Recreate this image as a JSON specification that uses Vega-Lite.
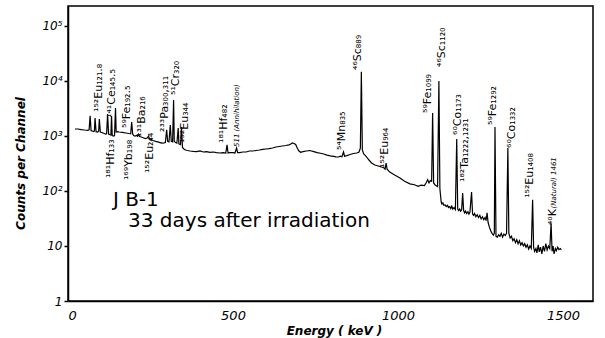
{
  "$schema": "https://vega.github.io/schema/vega-lite/v6.json",
  "width": 525,
  "height": 295,
  "autosize": {"type": "none"},
  "padding": {"left": 68, "top": 6, "right": 12, "bottom": 37},
  "background": "white",
  "config": {
    "view": {"stroke": "black", "strokeWidth": 1.5},
    "axis": {"grid": false, "domainColor": "black", "domainWidth": 1.5, "tickColor": "black", "tickWidth": 1.5, "labelColor": "black", "titleColor": "black"}
  },
  "datasets": {
    "spectrum": [
      {"energy":21,"counts":1340},{"energy":30,"counts":1340},{"energy":40,"counts":1310},{"energy":50,"counts":1285},{"energy":60,"counts":1270},{"energy":64,"counts":1300},{"energy":67,"counts":2340},{"energy":70,"counts":1250},{"energy":74,"counts":1233},{"energy":78,"counts":1200},{"energy":80,"counts":1230},{"energy":82,"counts":2125},{"energy":85,"counts":1200},{"energy":90,"counts":1183},{"energy":93,"counts":1220},{"energy":95,"counts":2040},{"energy":98,"counts":1183},{"energy":102,"counts":1160},{"energy":106,"counts":1134},{"energy":110,"counts":1110},{"energy":114,"counts":1087},{"energy":117,"counts":1100},{"energy":120,"counts":2510},{"energy":123,"counts":1087},{"energy":127,"counts":1060},{"energy":130,"counts":1043},{"energy":132,"counts":2310},{"energy":134,"counts":1020},{"energy":138,"counts":1000},{"energy":141,"counts":1020},{"energy":144,"counts":3230},{"energy":146,"counts":1183},{"energy":150,"counts":1200},{"energy":155,"counts":1183},{"energy":165,"counts":1160},{"energy":175,"counts":1134},{"energy":185,"counts":1110},{"energy":190,"counts":1100},{"energy":193,"counts":1800},{"energy":196,"counts":1087},{"energy":199,"counts":1020},{"energy":203,"counts":1000},{"energy":208,"counts":1020},{"energy":211,"counts":990},{"energy":214,"counts":1080},{"energy":217,"counts":980},{"energy":222,"counts":960},{"energy":228,"counts":930},{"energy":234,"counts":900},{"energy":240,"counts":920},{"energy":244,"counts":1000},{"energy":247,"counts":880},{"energy":252,"counts":860},{"energy":258,"counts":830},{"energy":265,"counts":800},{"energy":272,"counts":780},{"energy":279,"counts":760},{"energy":285,"counts":740},{"energy":291,"counts":750},{"energy":295,"counts":760},{"energy":299,"counts":1300},{"energy":302,"counts":800},{"energy":306,"counts":780},{"energy":310,"counts":1585},{"energy":313,"counts":800},{"energy":317,"counts":780},{"energy":320,"counts":4500},{"energy":322,"counts":800},{"energy":326,"counts":760},{"energy":330,"counts":740},{"energy":334,"counts":1400},{"energy":336,"counts":720},{"energy":341,"counts":700},{"energy":344,"counts":1458},{"energy":347,"counts":620},{"energy":351,"counts":580},{"energy":356,"counts":556},{"energy":362,"counts":545},{"energy":370,"counts":534},{"energy":380,"counts":525},{"energy":390,"counts":520},{"energy":400,"counts":534},{"energy":410,"counts":512},{"energy":420,"counts":520},{"energy":430,"counts":505},{"energy":440,"counts":512},{"energy":450,"counts":500},{"energy":460,"counts":491},{"energy":470,"counts":500},{"energy":478,"counts":491},{"energy":482,"counts":690},{"energy":485,"counts":491},{"energy":490,"counts":500},{"energy":500,"counts":500},{"energy":506,"counts":491},{"energy":511,"counts":605},{"energy":514,"counts":500},{"energy":520,"counts":500},{"energy":530,"counts":512},{"energy":540,"counts":512},{"energy":550,"counts":534},{"energy":560,"counts":534},{"energy":570,"counts":545},{"energy":580,"counts":556},{"energy":590,"counts":570},{"energy":600,"counts":580},{"energy":610,"counts":590},{"energy":620,"counts":605},{"energy":630,"counts":631},{"energy":640,"counts":645},{"energy":650,"counts":658},{"energy":660,"counts":672},{"energy":670,"counts":690},{"energy":675,"counts":716},{"energy":680,"counts":746},{"energy":685,"counts":730},{"energy":690,"counts":700},{"energy":695,"counts":600},{"energy":700,"counts":534},{"energy":705,"counts":505},{"energy":712,"counts":520},{"energy":722,"counts":534},{"energy":733,"counts":545},{"energy":745,"counts":520},{"energy":755,"counts":500},{"energy":765,"counts":485},{"energy":775,"counts":470},{"energy":785,"counts":450},{"energy":795,"counts":435},{"energy":805,"counts":425},{"energy":812,"counts":418},{"energy":820,"counts":415},{"energy":825,"counts":430},{"energy":830,"counts":420},{"energy":835,"counts":512},{"energy":838,"counts":430},{"energy":845,"counts":440},{"energy":855,"counts":460},{"energy":865,"counts":480},{"energy":875,"counts":490},{"energy":882,"counts":512},{"energy":886,"counts":600},{"energy":889,"counts":14760},{"energy":892,"counts":560},{"energy":896,"counts":471},{"energy":900,"counts":450},{"energy":905,"counts":415},{"energy":912,"counts":366},{"energy":920,"counts":323},{"energy":930,"counts":297},{"energy":940,"counts":285},{"energy":950,"counts":273},{"energy":957,"counts":265},{"energy":961,"counts":250},{"energy":964,"counts":323},{"energy":967,"counts":250},{"energy":975,"counts":221},{"energy":990,"counts":195},{"energy":1006,"counts":172},{"energy":1020,"counts":150},{"energy":1036,"counts":135},{"energy":1050,"counts":130},{"energy":1061,"counts":122},{"energy":1070,"counts":128},{"energy":1080,"counts":125},{"energy":1085,"counts":140},{"energy":1090,"counts":160},{"energy":1094,"counts":140},{"energy":1098,"counts":155},{"energy":1102,"counts":150},{"energy":1105,"counts":2620},{"energy":1108,"counts":140},{"energy":1112,"counts":130},{"energy":1116,"counts":125},{"energy":1120,"counts":120},{"energy":1124,"counts":10000},{"energy":1127,"counts":110},{"energy":1131,"counts":63},{"energy":1133,"counts":58},{"energy":1136,"counts":61},{"energy":1139,"counts":55},{"energy":1143,"counts":56},{"energy":1146,"counts":52},{"energy":1150,"counts":55},{"energy":1153,"counts":50},{"energy":1157,"counts":52},{"energy":1160,"counts":48},{"energy":1163,"counts":53},{"energy":1166,"counts":47},{"energy":1170,"counts":50},{"energy":1174,"counts":46},{"energy":1178,"counts":880},{"energy":1181,"counts":47},{"energy":1184,"counts":44},{"energy":1187,"counts":47},{"energy":1190,"counts":43},{"energy":1193,"counts":46},{"energy":1196,"counts":92},{"energy":1199,"counts":44},{"energy":1202,"counts":40},{"energy":1205,"counts":43},{"energy":1208,"counts":39},{"energy":1212,"counts":42},{"energy":1215,"counts":38},{"energy":1218,"counts":41},{"energy":1223,"counts":96},{"energy":1226,"counts":38},{"energy":1229,"counts":36},{"energy":1232,"counts":39},{"energy":1236,"counts":34},{"energy":1240,"counts":37},{"energy":1244,"counts":33},{"energy":1248,"counts":36},{"energy":1252,"counts":31},{"energy":1256,"counts":34},{"energy":1260,"counts":30},{"energy":1264,"counts":33},{"energy":1267,"counts":29},{"energy":1270,"counts":40},{"energy":1273,"counts":27},{"energy":1277,"counts":22},{"energy":1281,"counts":19},{"energy":1285,"counts":17},{"energy":1289,"counts":15.8},{"energy":1292,"counts":17},{"energy":1294,"counts":1450},{"energy":1297,"counts":15},{"energy":1301,"counts":14.5},{"energy":1305,"counts":16},{"energy":1309,"counts":15},{"energy":1313,"counts":17},{"energy":1317,"counts":14.5},{"energy":1321,"counts":16.5},{"energy":1325,"counts":15.5},{"energy":1329,"counts":17},{"energy":1333,"counts":605},{"energy":1336,"counts":17},{"energy":1340,"counts":14},{"energy":1344,"counts":15},{"energy":1348,"counts":12.5},{"energy":1352,"counts":13.5},{"energy":1356,"counts":11.5},{"energy":1360,"counts":13},{"energy":1364,"counts":11},{"energy":1368,"counts":12.5},{"energy":1372,"counts":10.4},{"energy":1376,"counts":11.5},{"energy":1380,"counts":10},{"energy":1384,"counts":11},{"energy":1388,"counts":9.5},{"energy":1392,"counts":10.5},{"energy":1396,"counts":8.8},{"energy":1400,"counts":10},{"energy":1404,"counts":9},{"energy":1408,"counts":69},{"energy":1411,"counts":9.5},{"energy":1414,"counts":8},{"energy":1418,"counts":9},{"energy":1421,"counts":7.5},{"energy":1425,"counts":10.5},{"energy":1428,"counts":7.8},{"energy":1432,"counts":9.5},{"energy":1436,"counts":7.2},{"energy":1440,"counts":10},{"energy":1444,"counts":8},{"energy":1448,"counts":11},{"energy":1452,"counts":8.5},{"energy":1456,"counts":10},{"energy":1460,"counts":9},{"energy":1464,"counts":26},{"energy":1467,"counts":8},{"energy":1470,"counts":10},{"energy":1473,"counts":7.2},{"energy":1477,"counts":9},{"energy":1480,"counts":8.2},{"energy":1484,"counts":9.5},{"energy":1488,"counts":8.6},{"energy":1492,"counts":9},{"energy":1495,"counts":8.5}
    ],
    "peaks": [
      {"energy":94,"counts":2730,"label":"¹⁵²Eu₁₂₁.₈"},
      {"energy":133,"counts":2125,"label":"¹⁴¹Ce₁₄₅.₅"},
      {"energy":179,"counts":1397,"label":"⁵⁹Fe₁₉₂.₅"},
      {"energy":224,"counts":959,"label":"¹³¹Ba₂₁₆"},
      {"energy":294,"counts":1183,"label":"²³³Pa₃₀₀,₃₁₁"},
      {"energy":327,"counts":5560,"label":"⁵¹Cr₃₂₀"},
      {"energy":355,"counts":746,"label":"¹⁵²Eu₃₄₄"},
      {"energy":472,"counts":746,"label":"¹⁸¹Hf₄₈₂"},
      {"energy":830,"counts":556,"label":"⁵⁴Mn₈₃₅"},
      {"energy":880,"counts":15850,"label":"⁴⁶Sc₈₈₉"},
      {"energy":960,"counts":262,"label":"¹⁵²Eu₉₆₄"},
      {"energy":1091,"counts":2620,"label":"⁵⁹Fe₁₀₉₉"},
      {"energy":1133,"counts":17980,"label":"⁴⁶Sc₁₁₂₀"},
      {"energy":1182,"counts":1043,"label":"⁶⁰Co₁₁₇₃"},
      {"energy":1203,"counts":146,"label":"¹⁸²Ta₁₂₂₂,₁₂₃₁"},
      {"energy":1288,"counts":1585,"label":"⁵⁹Fe₁₂₉₂"},
      {"energy":1345,"counts":605,"label":"⁶⁰Co₁₃₃₂"},
      {"energy":1400,"counts":75,"label":"¹⁵²Eu₁₄₀₈"},
      {"energy":1470,"counts":24,"label":"⁴⁰K"},
      {"energy":130,"counts":172,"label":"¹⁸¹Hf₁₃₃"},
      {"energy":185,"counts":158,"label":"¹⁶⁹Yb₁₉₈"},
      {"energy":250,"counts":212,"label":"¹⁵²Eu₂₄₄"}
    ],
    "small": [
      {"energy":512,"counts":631,"label":"511 (Annihilation)"},
      {"energy":1472,"counts":48,"label":"(Natural) 1461"}
    ],
    "notes": [
      {"energy":136,"counts":68.5,"label":"J B-1"},
      {"energy":182,"counts":28.5,"label":"33 days after irradiation"}
    ],
    "xticks": [
      {"energy":100},{"energy":200},{"energy":300},{"energy":400},{"energy":500},{"energy":600},{"energy":700},{"energy":800},{"energy":900},{"energy":1000},{"energy":1100},{"energy":1200},{"energy":1300},{"energy":1400},{"energy":1500}
    ],
    "yticks": [
      {"counts":10},{"counts":100},{"counts":1000},{"counts":10000},{"counts":100000}
    ]
  },
  "encoding": {
    "x": {"field": "energy", "type": "quantitative",
      "scale": {"domain": [0, 1591], "nice": false, "zero": false},
      "axis": {"values": [0,100,200,300,400,500,600,700,800,900,1000,1100,1200,1300,1400,1500],
        "labelExpr": "datum.value % 500 == 0 ? datum.label : ''", "format": "d", "labelOverlap": false,
        "ticks": false, "labelPadding": 8, "labelFont": "DejaVu Sans", "labelFontStyle": "italic", "labelFontSize": 13,
        "title": "Energy ( keV )", "titleFont": "DejaVu Sans", "titleFontStyle": "italic", "titleFontWeight": "bold", "titleFontSize": 12,
        "titleX": 266, "titleY": 29, "titleAlign": "center", "titleBaseline": "middle"}},
    "y": {"field": "counts", "type": "quantitative",
      "scale": {"type": "log", "domain": [1, 231000], "nice": false},
      "axis": {"values": [1,10,100,1000,10000,100000],
        "labelExpr": "datum.value == 1 ? '1' : datum.value == 10 ? '10' : datum.value == 100 ? '10²' : datum.value == 1000 ? '10³' : datum.value == 10000 ? '10⁴' : '10⁵'",
        "labelOverlap": false, "tickSize": 4, "labelPadding": 2, "labelFont": "DejaVu Sans", "labelFontStyle": "italic", "labelFontSize": 12,
        "title": "Counts per Channel", "titleFont": "DejaVu Sans", "titleFontStyle": "italic", "titleFontWeight": "bold", "titleFontSize": 12,
        "titleX": -48, "titleY": 157, "titleAngle": 270, "titleAlign": "center", "titleBaseline": "middle"}}
  },
  "layer": [
    {"data": {"name": "spectrum"}, "mark": {"type": "line", "color": "black", "strokeWidth": 1.2}},
    {"data": {"name": "xticks"}, "mark": {"type": "rule", "color": "black", "strokeWidth": 1.5},
      "encoding": {
        "y": {"datum": 1, "type": "quantitative",
          "axis": {"values": [1,10,100,1000,10000,100000],
            "labelExpr": "datum.value == 1 ? '1' : datum.value == 10 ? '10' : datum.value == 100 ? '10²' : datum.value == 1000 ? '10³' : datum.value == 10000 ? '10⁴' : '10⁵'",
            "labelOverlap": false, "tickSize": 4, "labelPadding": 2, "labelFont": "DejaVu Sans", "labelFontStyle": "italic", "labelFontSize": 12,
            "title": "Counts per Channel", "titleFont": "DejaVu Sans", "titleFontStyle": "italic", "titleFontWeight": "bold", "titleFontSize": 12,
            "titleX": -48, "titleY": 157, "titleAngle": 270, "titleAlign": "center", "titleBaseline": "middle"}},
        "y2": {"datum": 1.24}
      }},
    {"data": {"name": "yticks"}, "mark": {"type": "rule", "color": "black", "strokeWidth": 1.5},
      "encoding": {
        "x": {"datum": 1575, "type": "quantitative",
          "axis": {"values": [0,100,200,300,400,500,600,700,800,900,1000,1100,1200,1300,1400,1500],
            "labelExpr": "datum.value % 500 == 0 ? datum.label : ''", "format": "d", "labelOverlap": false,
            "ticks": false, "labelPadding": 8, "labelFont": "DejaVu Sans", "labelFontStyle": "italic", "labelFontSize": 13,
            "title": "Energy ( keV )", "titleFont": "DejaVu Sans", "titleFontStyle": "italic", "titleFontWeight": "bold", "titleFontSize": 12,
            "titleX": 266, "titleY": 29, "titleAlign": "center", "titleBaseline": "middle"}},
        "x2": {"datum": 1591}
      }},
    {"data": {"name": "peaks"}, "mark": {"type": "text", "angle": 270, "align": "left", "baseline": "middle", "font": "DejaVu Sans", "fontSize": 11, "color": "black"},
      "encoding": {"text": {"field": "label"}}},
    {"data": {"name": "small"}, "mark": {"type": "text", "angle": 270, "align": "left", "baseline": "middle", "font": "DejaVu Sans", "fontSize": 7, "fontStyle": "italic", "color": "black"},
      "encoding": {"text": {"field": "label"}}},
    {"data": {"name": "notes"}, "mark": {"type": "text", "align": "left", "baseline": "middle", "font": "DejaVu Sans", "fontSize": 20, "color": "black"},
      "encoding": {"text": {"field": "label"}}}
  ]
}
